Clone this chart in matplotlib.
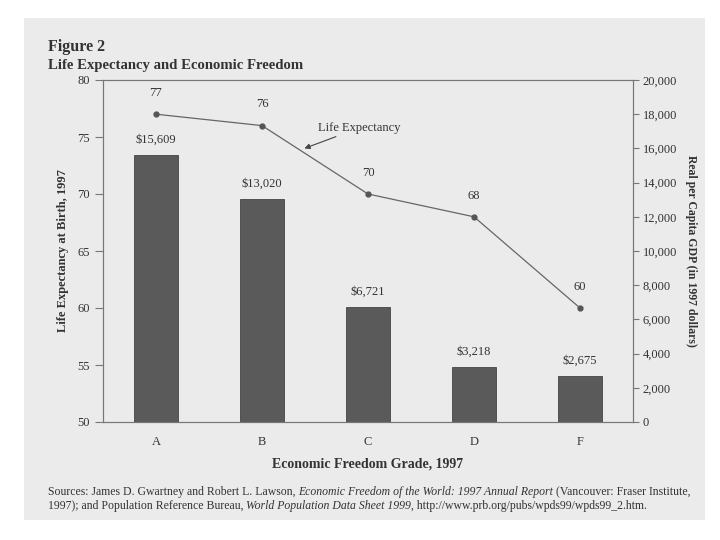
import matplotlib
matplotlib.use("Agg")
import matplotlib.pyplot as plt
from matplotlib.patches import Rectangle

# ---- data ----
grades = ["A", "B", "C", "D", "F"]
life_exp = [77, 76, 70, 68, 60]
gdp = [15609, 13020, 6721, 3218, 2675]
gdp_labels = ["$15,609", "$13,020", "$6,721", "$3,218", "$2,675"]

PAGE = "#ebebeb"
INK = "#333333"
plt.rcParams["font.family"] = ["Liberation Serif", "DejaVu Serif"]

fig = plt.figure(figsize=(7.2, 5.4), dpi=100, facecolor="white")
# scanned page area
fig.patches.append(Rectangle((24/720, 1-520/540), 681/720, 502/540,
                             transform=fig.transFigure, fc=PAGE, ec="none", zorder=-10))

ax = fig.add_axes([103/720, 1-422/540, 530/720, 342/540])
ax2 = ax.twinx()
ax.set_zorder(ax2.get_zorder() + 1)
ax.patch.set_visible(False)
ax2.patch.set_facecolor(PAGE)

x = list(range(len(grades)))

# bars: GDP on right axis
ax2.bar(x, gdp, width=0.42, color="#5a5a5a", edgecolor="#444444", lw=0.6)
for xi, g, lab in zip(x, gdp, gdp_labels):
    ax2.annotate(lab, (xi, g), xytext=(0, 7), textcoords="offset points",
                 ha="center", va="bottom", fontsize=9, color=INK)

# line: life expectancy on left axis
ax.plot(x, life_exp, color="#666666", lw=0.9, marker="o", ms=3.5,
        mfc="#555555", mec="#555555")
for xi, v in zip(x, life_exp):
    ax.annotate(str(v), (xi, v), xytext=(0, 11), textcoords="offset points",
                ha="center", va="bottom", fontsize=9, color=INK)
ax.annotate("Life Expectancy", xy=(1.40, 74.0), xytext=(1.53, 75.8),
            fontsize=9, color=INK, ha="left", va="center",
            arrowprops=dict(arrowstyle="-|>", color="#444", lw=0.8,
                            shrinkA=0, shrinkB=0, mutation_scale=8))

ax.set_xlim(-0.5, 4.5)
ax.set_ylim(50, 80)
ax.set_yticks(range(50, 81, 5))
ax2.set_ylim(0, 20000)
ax2.set_yticks(range(0, 20001, 2000))
ax2.set_yticklabels([f"{v:,}" for v in range(0, 20001, 2000)])
ax.set_xticks(x)
ax.set_xticklabels(grades)

for a in (ax, ax2):
    for s in a.spines.values():
        s.set_color("#777777")
        s.set_linewidth(0.8)
    a.tick_params(labelsize=9, colors="#777777", labelcolor=INK)
ax.tick_params(axis="y", length=6, width=0.8)
ax.tick_params(axis="x", length=0, pad=10)
ax2.tick_params(axis="y", length=4, width=0.8, pad=3)

ax.set_ylabel("Life Expectancy at Birth, 1997", fontsize=9, fontweight="bold",
              color=INK, labelpad=6)
ax2.set_ylabel("Real per Capita GDP (in 1997 dollars)", fontsize=8.5,
               fontweight="bold", color=INK, rotation=-90, labelpad=14)
ax.set_xlabel("Economic Freedom Grade, 1997", fontsize=10, fontweight="bold",
              color=INK, labelpad=7)

# title
fig.text(48/720, 1-47/540, "Figure 2", fontsize=11.5, fontweight="bold",
         color=INK, va="center")
fig.text(48/720, 1-65/540, "Life Expectancy and Economic Freedom", fontsize=10.6,
         fontweight="bold", color=INK, va="center")

# sources, with italic pieces
renderer = fig.canvas.get_renderer()
def run_text(x0, y0, pieces):
    xx = x0
    for txt, style in pieces:
        t = fig.text(xx, y0, txt, fontsize=8.5, style=style, color=INK,
                     va="center", transform=None)
        bb = t.get_window_extent(renderer)
        xx = bb.x1

run_text(48, 540-492, [
    ("Sources: James D. Gwartney and Robert L. Lawson, ", "normal"),
    ("Economic Freedom of the World: 1997 Annual Report", "italic"),
    (" (Vancouver: Fraser Institute,", "normal"),
])
run_text(48, 540-506, [
    ("1997); and Population Reference Bureau, ", "normal"),
    ("World Population Data Sheet 1999", "italic"),
    (", http://www.prb.org/pubs/wpds99/wpds99_2.htm.", "normal"),
])

fig.savefig("out.png", dpi=100, facecolor="white")
